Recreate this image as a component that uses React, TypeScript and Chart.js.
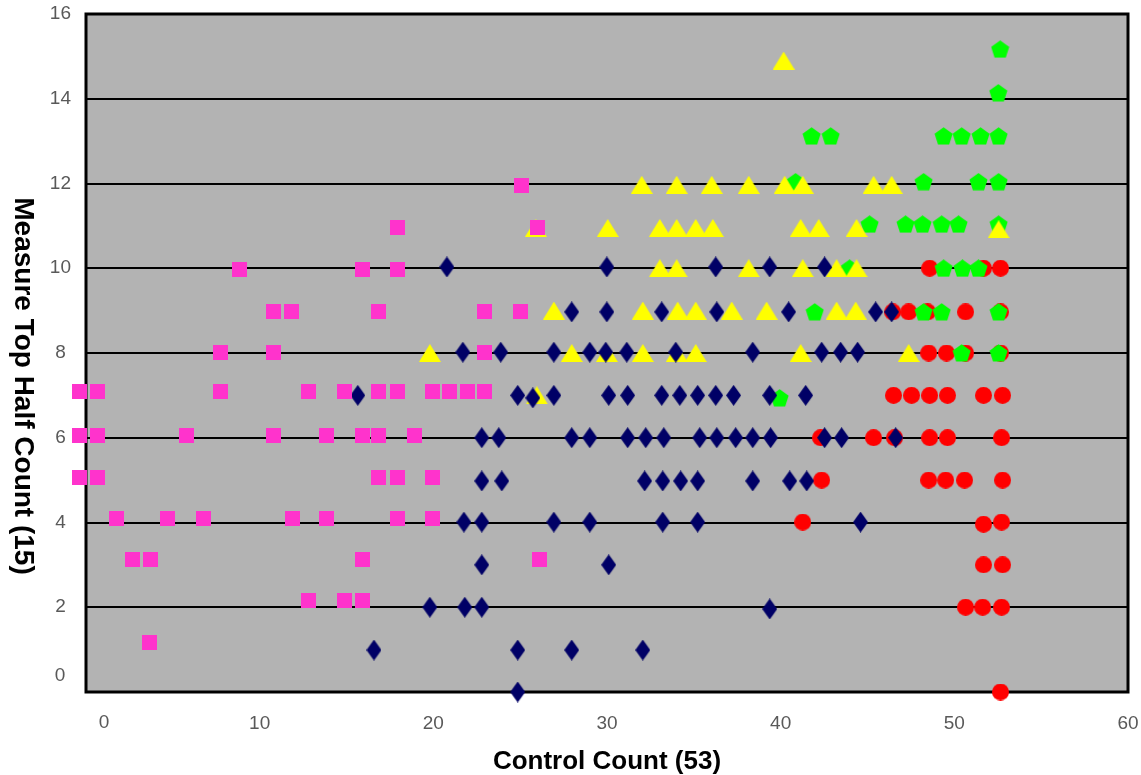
import React, { useEffect, useRef } from 'react';
import { Chart, registerables } from 'chart.js';

Chart.register(...registerables);

// ---- Axis setup ----
const xMin = 0;
const xMax = 60;
const xStep = 10;
const yMin = 0;
const yMax = 16;
const yStep = 2;
const xTitle = 'Control Count (53)';
const yTitle = 'Measure Top Half Count (15)';

// ---- Series data: [x, y] ----
const squarePoints: [number, number][] = [
  [25.09, 11.96],
  [17.96, 10.95], [26.01, 10.95],
  [8.81, 9.96], [15.94, 9.96], [17.96, 9.96],
  [10.82, 8.99], [11.86, 8.99], [16.86, 8.99], [22.96, 8.99], [25.04, 8.99],
  [7.77, 8.02], [10.82, 8.02], [22.96, 8.02],
  [-0.35, 7.08], [0.69, 7.08], [7.77, 7.08], [12.83, 7.08], [14.91, 7.08], [16.86, 7.08],
  [17.96, 7.08], [19.97, 7.08], [20.95, 7.08], [21.99, 7.08], [22.96, 7.08],
  [-0.35, 6.06], [0.69, 6.06], [5.76, 6.06], [10.82, 6.06], [13.87, 6.06], [15.94, 6.06],
  [16.86, 6.06], [18.94, 6.06],
  [-0.35, 5.07], [0.69, 5.07], [16.86, 5.07], [17.96, 5.07], [19.97, 5.07],
  [1.73, 4.1], [4.72, 4.1], [6.74, 4.1], [11.91, 4.1], [13.87, 4.1], [17.96, 4.1], [19.97, 4.1],
  [2.65, 3.12], [3.74, 3.12], [15.94, 3.12], [26.13, 3.12],
  [12.83, 2.15], [14.91, 2.15], [15.94, 2.15],
  [3.63, 1.16],
];

const diamondPoints: [number, number][] = [
  [20.78, 10.03], [29.99, 10.03], [36.26, 10.03], [39.37, 10.03], [42.53, 10.03],
  [27.97, 8.97], [29.99, 8.97], [33.15, 8.97], [36.32, 8.97], [40.46, 8.97], [45.47, 8.97], [46.39, 8.97],
  [21.7, 8.02], [23.88, 8.02], [26.94, 8.02], [29.01, 8.02], [29.93, 8.02], [31.14, 8.02],
  [33.96, 8.02], [38.39, 8.02], [42.36, 8.02], [43.45, 8.02], [44.43, 8.02],
  [15.65, 7.0], [24.86, 7.0], [25.73, 6.94], [26.94, 7.0], [30.1, 7.0], [31.19, 7.0], [33.15, 7.0],
  [34.19, 7.0], [35.22, 7.0], [36.26, 7.0], [37.29, 7.0], [39.37, 7.0], [41.44, 7.0],
  [22.79, 6.0], [23.77, 6.0], [27.97, 6.0], [29.01, 6.0], [31.19, 6.0], [32.23, 6.0], [33.27, 6.0],
  [35.34, 6.0], [36.32, 6.0], [37.41, 6.0], [38.39, 6.0], [39.42, 6.0], [42.53, 6.0], [43.51, 6.0], [46.62, 6.0],
  [22.79, 4.98], [23.94, 4.98], [32.17, 4.98], [33.21, 4.98], [34.24, 4.98], [35.22, 4.98],
  [38.39, 4.98], [40.52, 4.98], [41.5, 4.98],
  [21.76, 4.01], [22.79, 4.01], [26.94, 4.01], [29.01, 4.01], [33.21, 4.01], [35.22, 4.01], [44.6, 4.01],
  [22.79, 3.0], [30.1, 3.0],
  [19.8, 2.0], [21.81, 2.0], [22.79, 2.0], [39.37, 1.96],
  [16.58, 0.99], [24.86, 0.99], [27.97, 0.99], [32.06, 0.99],
  [24.86, 0.0],
];

const trianglePoints: [number, number][] = [
  [40.17, 14.9],
  [32.0, 11.97], [34.01, 11.97], [36.03, 11.97], [38.16, 11.97], [40.23, 11.97], [41.27, 11.97],
  [45.35, 11.97], [46.39, 11.97],
  [25.9, 10.95], [30.04, 10.95], [33.04, 10.95], [34.01, 10.95], [35.11, 10.95], [36.09, 10.95],
  [41.15, 10.95], [42.19, 10.95], [44.37, 10.95], [52.55, 10.92],
  [33.04, 10.0], [34.01, 10.0], [38.16, 10.0], [41.27, 10.0], [43.22, 10.0], [44.37, 10.0],
  [26.94, 9.0], [32.06, 9.0], [34.07, 9.0], [35.11, 9.0], [37.18, 9.0], [39.19, 9.0], [43.22, 9.0], [44.32, 9.0],
  [19.8, 8.0], [27.97, 8.0], [29.99, 8.0], [32.06, 8.0], [34.01, 8.0], [35.11, 8.0], [41.15, 8.0], [47.37, 8.0],
  [25.96, 7.0],
];

const pentagonPoints: [number, number][] = [
  [52.64, 15.17], [52.53, 14.14],
  [41.78, 13.12], [42.88, 13.12], [49.38, 13.12], [50.42, 13.12], [51.51, 13.12], [52.55, 13.12],
  [40.86, 12.04], [48.23, 12.04], [51.39, 12.04], [52.55, 12.04],
  [45.12, 11.04], [47.19, 11.04], [48.17, 11.04], [49.27, 11.04], [50.24, 11.04], [52.55, 11.04],
  [43.97, 10.0], [49.38, 10.0], [50.47, 10.0], [51.39, 10.0],
  [41.96, 8.97], [48.23, 8.97], [49.27, 8.97], [52.55, 8.97],
  [50.42, 8.0], [52.55, 8.0],
  [39.94, 6.94],
];

const circlePoints: [number, number][] = [
  [48.58, 10.0], [51.68, 10.0], [52.66, 10.0],
  [46.45, 8.97], [47.37, 8.97], [48.46, 8.97], [50.65, 8.97], [52.66, 8.97],
  [48.52, 8.0], [49.55, 8.0], [50.65, 8.0], [52.66, 8.0],
  [46.5, 7.0], [47.54, 7.0], [48.58, 7.0], [49.61, 7.0], [51.68, 7.0], [52.78, 7.0],
  [42.3, 6.0], [45.35, 6.0], [46.56, 6.0], [48.58, 6.0], [49.61, 6.0], [52.72, 6.0],
  [42.36, 5.0], [48.52, 5.0], [49.5, 5.0], [50.59, 5.0], [52.78, 5.0],
  [41.27, 4.01], [51.68, 3.96], [52.72, 4.01],
  [51.68, 3.0], [52.78, 3.0],
  [50.65, 2.0], [51.63, 2.0], [52.72, 2.0],
  [52.66, 0.0],
];

// ---- Styles ----
const PINK = '#FF33CC';
const NAVY = '#000066';
const YELLOW = '#FFFF00';
const GREEN = '#00FF00';
const RED = '#FF0000';
const PLOT_BG = '#B3B3B3';
const TICK_COLOR = '#595959';
const FONT = 'Arial, "Liberation Sans", sans-serif';

function makeMarker(w: number, h: number, draw: (ctx: CanvasRenderingContext2D) => void) {
  const c = document.createElement('canvas');
  c.width = w;
  c.height = h;
  const ctx = c.getContext('2d')!;
  draw(ctx);
  return c;
}

function buildMarkers() {
  const square = makeMarker(15, 15, (ctx) => {
    ctx.fillStyle = PINK;
    ctx.fillRect(0, 0, 15, 15);
  });
  const diamond = makeMarker(15, 21, (ctx) => {
    ctx.fillStyle = NAVY;
    ctx.beginPath();
    ctx.moveTo(7.5, 0);
    ctx.lineTo(15, 10.5);
    ctx.lineTo(7.5, 21);
    ctx.lineTo(0, 10.5);
    ctx.closePath();
    ctx.fill();
  });
  const triangle = makeMarker(22, 18, (ctx) => {
    ctx.fillStyle = YELLOW;
    ctx.beginPath();
    ctx.moveTo(11, 0);
    ctx.lineTo(22, 18);
    ctx.lineTo(0, 18);
    ctx.closePath();
    ctx.fill();
  });
  const pentagon = makeMarker(19, 18, (ctx) => {
    ctx.fillStyle = GREEN;
    const R = 9.5;
    const cx = 9.5;
    const cy = R + 0.2;
    ctx.beginPath();
    for (let k = 0; k < 5; k++) {
      const a = -Math.PI / 2 + (k * 2 * Math.PI) / 5;
      const px = cx + R * Math.cos(a);
      const py = cy + R * Math.sin(a);
      if (k === 0) ctx.moveTo(px, py);
      else ctx.lineTo(px, py);
    }
    ctx.closePath();
    ctx.fill();
  });
  const circle = makeMarker(17, 17, (ctx) => {
    ctx.fillStyle = RED;
    ctx.beginPath();
    ctx.arc(8.5, 8.5, 8.5, 0, Math.PI * 2);
    ctx.fill();
  });
  return { square, diamond, triangle, pentagon, circle };
}

const toXY = (pts: [number, number][]) => pts.map(([x, y]) => ({ x, y }));

export default function App() {
  const canvasRef = useRef<HTMLCanvasElement | null>(null);

  useEffect(() => {
    document.body.style.margin = '0';
    const canvas = canvasRef.current;
    if (!canvas) return;
    const m = buildMarkers();

    const decor = {
      id: 'decor',
      beforeDraw(chart: any) {
        const { ctx, chartArea } = chart;
        const { left, top, right, bottom } = chartArea;
        ctx.save();
        ctx.fillStyle = '#FFFFFF';
        ctx.fillRect(0, 0, chart.width, chart.height);
        ctx.fillStyle = PLOT_BG;
        ctx.fillRect(left, top, right - left, bottom - top);
        ctx.restore();
      },
      beforeDatasetsDraw(chart: any) {
        const { ctx, chartArea } = chart;
        const { left, top, right, bottom } = chartArea;
        ctx.save();
        ctx.strokeStyle = '#000000';
        ctx.lineWidth = 3;
        ctx.strokeRect(left, top, right - left, bottom - top);
        ctx.restore();
      },
      afterDraw(chart: any) {
        const { ctx } = chart;
        const xs = chart.scales.x;
        const ys = chart.scales.y;
        ctx.save();
        ctx.fillStyle = TICK_COLOR;
        ctx.font = `19px ${FONT}`;
        ctx.textAlign = 'center';
        ctx.textBaseline = 'middle';
        // zero labels, nudged away from the corner as in the reference
        ctx.fillText('0', xs.getPixelForValue(0) + 18, 723);
        ctx.fillText('0', 60, ys.getPixelForValue(0) - 16);
        // y-axis title, reading top to bottom
        ctx.fillStyle = '#000000';
        ctx.font = `bold 28px ${FONT}`;
        ctx.translate(23, 386);
        ctx.rotate(Math.PI / 2);
        ctx.fillText(yTitle, 0, 0);
        ctx.restore();
      },
    };

    const common = { showLine: false, clip: false as any, pointRadius: 9, pointHoverRadius: 9 };

    const chart = new Chart(canvas, {
      type: 'scatter',
      data: {
        datasets: [
          { label: 'Squares', data: toXY(squarePoints), pointStyle: m.square, backgroundColor: PINK, ...common },
          { label: 'Diamonds', data: toXY(diamondPoints), pointStyle: m.diamond, backgroundColor: NAVY, ...common },
          { label: 'Triangles', data: toXY(trianglePoints), pointStyle: m.triangle, backgroundColor: YELLOW, ...common },
          { label: 'Pentagons', data: toXY(pentagonPoints), pointStyle: m.pentagon, backgroundColor: GREEN, ...common },
          { label: 'Circles', data: toXY(circlePoints), pointStyle: m.circle, backgroundColor: RED, ...common },
        ] as any,
      },
      options: {
        responsive: false,
        animation: false,
        devicePixelRatio: 1,
        layout: { padding: { top: 14, right: 13, left: 0, bottom: 0 } },
        plugins: {
          legend: { display: false },
          tooltip: { enabled: false },
        },
        scales: {
          x: {
            type: 'linear',
            min: xMin,
            max: xMax,
            ticks: {
              stepSize: xStep,
              padding: 20,
              color: TICK_COLOR,
              font: { family: FONT, size: 19 },
              maxRotation: 0,
              autoSkip: false,
              callback: (v: any) => (Number(v) === 0 ? '' : String(v)),
            },
            grid: { display: false, drawTicks: false },
            border: { display: false },
            title: {
              display: true,
              text: xTitle,
              color: '#000000',
              font: { family: FONT, size: 26, weight: 'bold', lineHeight: 1 },
              padding: { top: 0, bottom: 0 },
            },
            afterFit: (s: any) => {
              s.height = 83;
              s.paddingLeft = 0;
              s.paddingRight = 0;
            },
          },
          y: {
            type: 'linear',
            min: yMin,
            max: yMax,
            ticks: {
              stepSize: yStep,
              padding: 15,
              crossAlign: 'center',
              color: TICK_COLOR,
              font: { family: FONT, size: 19 },
              callback: (v: any) => (Number(v) === 0 ? '' : String(v)),
            },
            grid: { color: '#000000', lineWidth: 2, drawTicks: false },
            border: { display: false },
            afterFit: (s: any) => {
              s.width = 86;
              s.paddingTop = 0;
              s.paddingBottom = 0;
            },
          },
        },
      } as any,
      plugins: [decor],
    });

    return () => chart.destroy();
  }, []);

  return (
    <div style={{ width: 1141, height: 775 }}>
      <canvas ref={canvasRef} width={1141} height={775} style={{ display: 'block' }} />
    </div>
  );
}
